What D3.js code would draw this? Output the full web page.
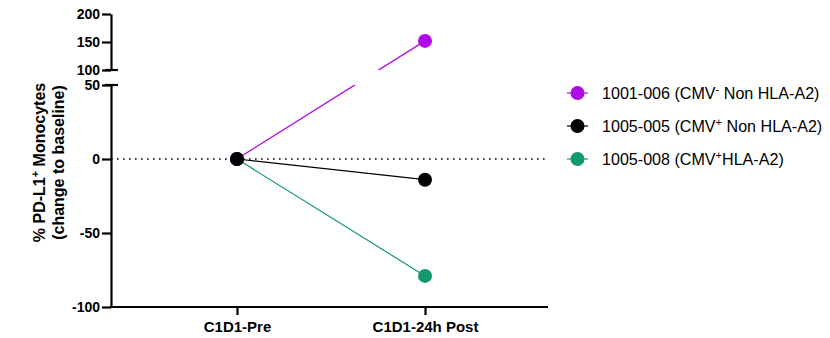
<!DOCTYPE html>
<html><head><meta charset="utf-8">
<script src="https://cdn.jsdelivr.net/npm/d3@7"></script>
<style>body{margin:0;background:#fff}svg{display:block}text{font-family:Arial,"Liberation Sans",sans-serif}</style>
</head><body><svg id="c" width="830" height="338"></svg>
<script>
const categories = ["C1D1-Pre", "C1D1-24h Post"];
const seriesNames = ["1001-006", "1005-005", "1005-008"];
const seriesValues = [[0, 152], [0, -14], [0, -79]];
const seriesColors = ["#ad0ce6", "#000000", "#12996a"];
const lowerTicks = [-100, -50, 0, 50];
const upperTicks = [100, 150, 200];

const FONT = "Arial, 'Liberation Sans', sans-serif";
const svg = d3.select("#c");
const x = d3.scalePoint().domain(categories).range([112.5, 549.5]).padding(0.662);
const yLow = d3.scaleLinear().domain([-100, 50]).range([307, 85]);
const yHigh = d3.scaleLinear().domain([100, 200]).range([70, 14]);
const y = v => v >= 100 ? yHigh(v) : yLow(v);
const fmt = d => String(d); // hyphen minus like reference

const defs = svg.append("defs");
defs.append("clipPath").attr("id", "clipA").append("path")
  .attr("d", `M111,0H830V${yHigh(100)}H111Z M111,${yLow(50)}H830V338H111Z`);

// dotted zero line
svg.append("line").attr("x1", 111).attr("x2", 548).attr("y1", yLow(0)).attr("y2", yLow(0))
  .attr("stroke", "#000").attr("stroke-width", 1.6).attr("stroke-dasharray", "1.6,4.4");

// series lines
const g = svg.append("g").attr("clip-path", "url(#clipA)");
seriesValues.forEach((vals, i) => {
  g.append("path").datum(vals)
    .attr("d", d3.line().x((d, j) => x(categories[j])).y(d => y(d)))
    .attr("fill", "none").attr("stroke", seriesColors[i]).attr("stroke-width", 1.2);
});
[2, 0, 1].forEach(i => {
  svg.selectAll(null).data(seriesValues[i]).enter().append("circle")
    .attr("cx", (d, j) => x(categories[j])).attr("cy", d => y(d)).attr("r", 7)
    .attr("fill", seriesColors[i]);
});

// axes
const axLow = d3.axisLeft(yLow).tickValues(lowerTicks).tickFormat(fmt).tickSize(9).tickSizeOuter(0);
const axHigh = d3.axisLeft(yHigh).tickValues(upperTicks).tickFormat(fmt).tickSize(9).tickSizeOuter(0);
const styleAxis = sel => {
  sel.select(".domain").attr("stroke-width", 2.2);
  sel.selectAll(".tick line").attr("stroke-width", 2.2);
  sel.selectAll(".tick text").attr("font-size", 14).attr("font-weight", "bold")
    .attr("font-family", FONT).attr("x", -11);
};
svg.append("g").attr("transform", "translate(111,0)").call(axLow).call(styleAxis);
svg.append("g").attr("transform", "translate(111,0)").call(axHigh).call(styleAxis);
[yHigh(100), yLow(50)].forEach(yy => {
  svg.append("line").attr("x1", 105).attr("x2", 118).attr("y1", yy).attr("y2", yy)
    .attr("stroke", "#000").attr("stroke-width", 2.2);
});

const axX = d3.axisBottom(x).tickSize(8).tickSizeOuter(0);
const gx = svg.append("g").attr("transform", `translate(0,${yLow(-100)})`).call(axX);
gx.select(".domain").attr("d", "M110,0H548").attr("stroke-width", 2.2);
gx.selectAll(".tick line").attr("stroke-width", 2.2);
gx.selectAll(".tick text").attr("font-size", 15).attr("font-weight", "bold")
  .attr("font-family", FONT).attr("dy", "0.95em");

// y title
const cy = (yHigh(200) + yLow(-100)) / 2 + 2;
const t = svg.append("text").attr("transform", `translate(45,${cy}) rotate(-90)`)
  .attr("text-anchor", "middle").attr("font-size", 16).attr("font-weight", "bold");
t.append("tspan").text("% PD-L1");
t.append("tspan").attr("baseline-shift", "super").attr("font-size", 11).text("+");
t.append("tspan").text(" Monocytes");
svg.append("text").attr("transform", `translate(64,${cy}) rotate(-90)`)
  .attr("text-anchor", "middle").attr("font-size", 16).attr("font-weight", "bold")
  .text("(change to baseline)");

// legend
const legendParts = [
  ["1001-006 (CMV", "-", " Non HLA-A2)"],
  ["1005-005 (CMV", "+", " Non HLA-A2)"],
  ["1005-008 (CMV", "+", "HLA-A2)"]
];
const legY = [93, 126, 159];
legendParts.forEach((p, i) => {
  const lg = svg.append("g").attr("transform", `translate(0,${legY[i]})`);
  lg.append("line").attr("x1", 567).attr("x2", 588).attr("stroke", seriesColors[i]).attr("stroke-width", 1.2);
  lg.append("circle").attr("cx", 577.5).attr("r", 7).attr("fill", seriesColors[i]);
  const tx = lg.append("text").attr("x", 602).attr("y", 6).attr("font-size", 16.1);
  tx.append("tspan").text(p[0]);
  tx.append("tspan").attr("baseline-shift", "super").attr("font-size", 11).text(p[1]);
  tx.append("tspan").text(p[2]);
});
</script></body></html>
